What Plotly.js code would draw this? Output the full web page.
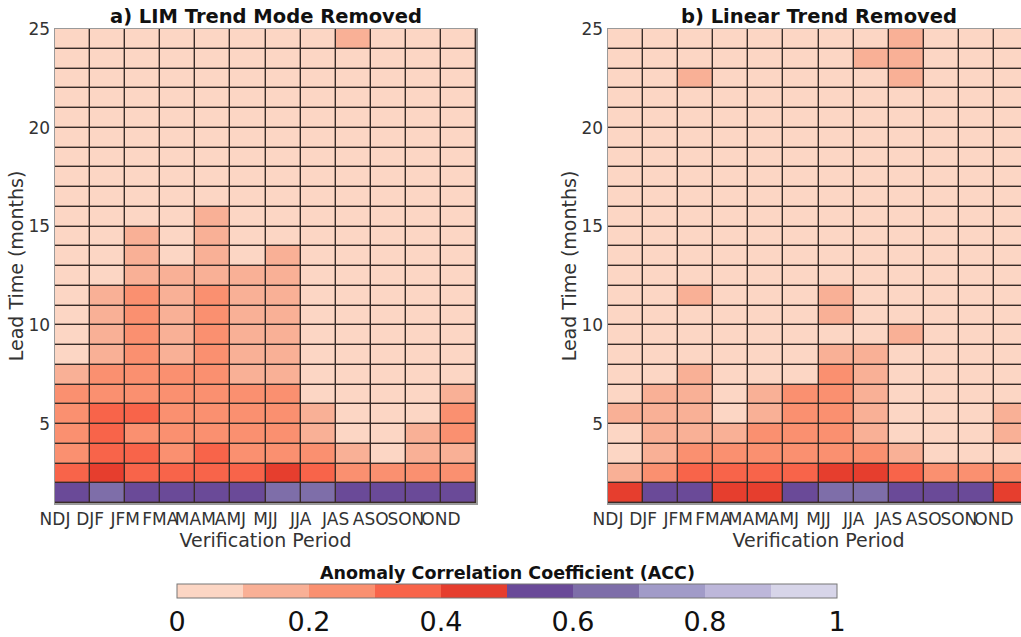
<!DOCTYPE html>
<html>
<head>
<meta charset="utf-8">
<script src="https://cdn.plot.ly/plotly-3.0.1.min.js"></script>
<style>
html, body { margin:0; padding:0; width:1021px; height:637px; overflow:hidden; background:#fff; }
#chart { width:1040px; height:637px; }
</style>
</head>
<body>
<div id="chart"></div>
<script>
// Verification periods (columns) and lead times (rows, months)
const periods = ['NDJ','DJF','JFM','FMA','MAM','AMJ','MJJ','JJA','JAS','ASO','SON','OND'];
const leads = [1,2,3,4,5,6,7,8,9,10,11,12,13,14,15,16,17,18,19,20,21,22,23,24];
const leadTicks = [5,10,15,20,25];
const accTicks = [0,0.2,0.4,0.6,0.8,1];

// a) LIM Trend Mode Removed : ACC per lead (row) and verification period (column)
const accLIM = [
  [0.55,0.65,0.55,0.55,0.55,0.55,0.65,0.65,0.55,0.55,0.55,0.55], // lead 1
  [0.35,0.45,0.35,0.35,0.35,0.35,0.45,0.35,0.25,0.25,0.25,0.25], // 2
  [0.25,0.35,0.35,0.25,0.35,0.25,0.25,0.25,0.15,0.05,0.15,0.15], // 3
  [0.25,0.35,0.25,0.25,0.25,0.25,0.25,0.15,0.05,0.05,0.15,0.25], // 4
  [0.25,0.35,0.35,0.25,0.25,0.25,0.25,0.15,0.05,0.05,0.05,0.25], // 5
  [0.25,0.25,0.25,0.25,0.25,0.25,0.25,0.05,0.05,0.05,0.05,0.15], // 6
  [0.15,0.25,0.25,0.25,0.25,0.15,0.15,0.05,0.05,0.05,0.05,0.05], // 7
  [0.05,0.15,0.25,0.15,0.25,0.15,0.15,0.05,0.05,0.05,0.05,0.05], // 8
  [0.05,0.15,0.25,0.15,0.25,0.15,0.15,0.05,0.05,0.05,0.05,0.05], // 9
  [0.05,0.15,0.25,0.15,0.25,0.15,0.15,0.05,0.05,0.05,0.05,0.05], // 10
  [0.05,0.15,0.25,0.15,0.25,0.15,0.15,0.05,0.05,0.05,0.05,0.05], // 11
  [0.05,0.05,0.15,0.15,0.15,0.15,0.15,0.05,0.05,0.05,0.05,0.05], // 12
  [0.05,0.05,0.15,0.05,0.15,0.05,0.15,0.05,0.05,0.05,0.05,0.05], // 13
  [0.05,0.05,0.15,0.05,0.15,0.05,0.05,0.05,0.05,0.05,0.05,0.05], // 14
  [0.05,0.05,0.05,0.05,0.15,0.05,0.05,0.05,0.05,0.05,0.05,0.05], // 15
  [0.05,0.05,0.05,0.05,0.05,0.05,0.05,0.05,0.05,0.05,0.05,0.05], // 16
  [0.05,0.05,0.05,0.05,0.05,0.05,0.05,0.05,0.05,0.05,0.05,0.05], // 17
  [0.05,0.05,0.05,0.05,0.05,0.05,0.05,0.05,0.05,0.05,0.05,0.05], // 18
  [0.05,0.05,0.05,0.05,0.05,0.05,0.05,0.05,0.05,0.05,0.05,0.05], // 19
  [0.05,0.05,0.05,0.05,0.05,0.05,0.05,0.05,0.05,0.05,0.05,0.05], // 20
  [0.05,0.05,0.05,0.05,0.05,0.05,0.05,0.05,0.05,0.05,0.05,0.05], // 21
  [0.05,0.05,0.05,0.05,0.05,0.05,0.05,0.05,0.05,0.05,0.05,0.05], // 22
  [0.05,0.05,0.05,0.05,0.05,0.05,0.05,0.05,0.05,0.05,0.05,0.05], // 23
  [0.05,0.05,0.05,0.05,0.05,0.05,0.05,0.05,0.15,0.05,0.05,0.05]  // 24
];

// b) Linear Trend Removed
const accLinear = [
  [0.45,0.55,0.55,0.45,0.45,0.55,0.65,0.65,0.55,0.55,0.55,0.45], // lead 1
  [0.15,0.25,0.35,0.35,0.35,0.35,0.45,0.45,0.35,0.25,0.25,0.25], // 2
  [0.05,0.15,0.25,0.25,0.25,0.25,0.25,0.25,0.15,0.05,0.05,0.05], // 3
  [0.05,0.15,0.15,0.15,0.25,0.25,0.25,0.15,0.05,0.05,0.05,0.15], // 4
  [0.15,0.15,0.15,0.05,0.15,0.25,0.25,0.15,0.05,0.05,0.05,0.15], // 5
  [0.05,0.15,0.15,0.05,0.15,0.25,0.25,0.15,0.05,0.05,0.05,0.05], // 6
  [0.05,0.05,0.15,0.05,0.05,0.05,0.25,0.15,0.05,0.05,0.05,0.05], // 7
  [0.05,0.05,0.05,0.05,0.05,0.05,0.15,0.15,0.05,0.05,0.05,0.05], // 8
  [0.05,0.05,0.05,0.05,0.05,0.05,0.05,0.05,0.15,0.05,0.05,0.05], // 9
  [0.05,0.05,0.05,0.05,0.05,0.05,0.15,0.05,0.05,0.05,0.05,0.05], // 10
  [0.05,0.05,0.15,0.05,0.05,0.05,0.15,0.05,0.05,0.05,0.05,0.05], // 11
  [0.05,0.05,0.05,0.05,0.05,0.05,0.05,0.05,0.05,0.05,0.05,0.05], // 12
  [0.05,0.05,0.05,0.05,0.05,0.05,0.05,0.05,0.05,0.05,0.05,0.05], // 13
  [0.05,0.05,0.05,0.05,0.05,0.05,0.05,0.05,0.05,0.05,0.05,0.05], // 14
  [0.05,0.05,0.05,0.05,0.05,0.05,0.05,0.05,0.05,0.05,0.05,0.05], // 15
  [0.05,0.05,0.05,0.05,0.05,0.05,0.05,0.05,0.05,0.05,0.05,0.05], // 16
  [0.05,0.05,0.05,0.05,0.05,0.05,0.05,0.05,0.05,0.05,0.05,0.05], // 17
  [0.05,0.05,0.05,0.05,0.05,0.05,0.05,0.05,0.05,0.05,0.05,0.05], // 18
  [0.05,0.05,0.05,0.05,0.05,0.05,0.05,0.05,0.05,0.05,0.05,0.05], // 19
  [0.05,0.05,0.05,0.05,0.05,0.05,0.05,0.05,0.05,0.05,0.05,0.05], // 20
  [0.05,0.05,0.05,0.05,0.05,0.05,0.05,0.05,0.05,0.05,0.05,0.05], // 21
  [0.05,0.05,0.15,0.05,0.05,0.05,0.05,0.05,0.15,0.05,0.05,0.05], // 22
  [0.05,0.05,0.05,0.05,0.05,0.05,0.05,0.15,0.15,0.05,0.05,0.05], // 23
  [0.05,0.05,0.05,0.05,0.05,0.05,0.05,0.05,0.15,0.05,0.05,0.05]  // 24
];

// Discrete colormap: 10 bins from 0 to 1
const binColors = ['#fcd6c4','#f9b096','#fa9070','#f8644a','#e63e2e',
                   '#6a4a98','#7e6ea9','#a19bc8','#bdb7da','#d7d5e9'];

const colorscale = [];
binColors.forEach((c, i) => {
  colorscale.push([i / binColors.length, c]);
  colorscale.push([(i + 1) / binColors.length, c]);
});

// cell edges built from the category / lead lists
const xEdges = periods.map((_, i) => i + 1).concat([periods.length + 1]);
const yEdges = leads.concat([leads[leads.length - 1] + 1]);

const W = 1040, H = 637;
const font = 'DejaVu Sans, Liberation Sans, sans-serif';

// colour bar geometry (pixels)
const CB_LEFT = 177, CB_LEN = 660, CB_TOP = 584, CB_THICK = 14;

function heat(z, xa, ya) {
  return {
    type: 'heatmap', z: z, x: xEdges, y: yEdges,
    xaxis: xa, yaxis: ya, coloraxis: 'coloraxis',
    xgap: 1.4, ygap: 1.4, hoverongaps: false,
    hovertemplate: '%{z:.2f}<extra></extra>'
  };
}

function xAxis(domain, anchor) {
  return {
    domain: domain, anchor: anchor, range: [1, periods.length + 1],
    tickmode: 'array', tickvals: periods.map((_, i) => i + 1), ticktext: periods,
    tickangle: 0, ticks: '', showgrid: false, zeroline: false,
    showline: true, mirror: true, linecolor: '#9a9a9a', linewidth: 1.5,
    tickfont: {family: font, size: 17, color: '#333'},
    title: {text: 'Verification Period', font: {family: font, size: 19, color: '#333'}, standoff: 0},
    fixedrange: true
  };
}
function yAxis(domain, anchor) {
  return {
    domain: domain, anchor: anchor, range: [1, 25],
    tickmode: 'array', tickvals: leadTicks,
    ticks: '', showgrid: false, zeroline: false,
    showline: true, mirror: true, linecolor: '#9a9a9a', linewidth: 1.5,
    tickfont: {family: font, size: 17, color: '#333'},
    title: {text: 'Lead Time (months)', font: {family: font, size: 19, color: '#333'}, standoff: 0},
    fixedrange: true
  };
}

const yDom = [(H - 503) / H, (H - 29) / H];

const data = [heat(accLIM, 'x', 'y'), heat(accLinear, 'x2', 'y2')];

// thin separators between the colour bins of the colour bar
const sepShapes = binColors.slice(1).map((_, i) => {
  const px = CB_LEFT + CB_LEN * (i + 1) / binColors.length;
  return {
    type: 'line', xref: 'paper', yref: 'paper',
    x0: px / W, x1: px / W,
    y0: (H - CB_TOP) / H, y1: (H - CB_TOP - CB_THICK) / H,
    line: {color: 'rgba(60,40,40,0.75)', width: 1}
  };
});

const layout = {
  width: W, height: H,
  margin: {l: 0, r: 0, t: 0, b: 0, autoexpand: false},
  paper_bgcolor: '#ffffff',
  plot_bgcolor: '#3a2c28',
  font: {family: font},
  showlegend: false,
  xaxis: xAxis([55 / W, 476 / W], 'y'),
  yaxis: yAxis(yDom, 'x'),
  xaxis2: xAxis([608 / W, 1029 / W], 'y2'),
  yaxis2: yAxis(yDom, 'x2'),
  coloraxis: {
    colorscale: colorscale, cmin: 0, cmax: 1,
    colorbar: {
      orientation: 'h',
      x: (CB_LEFT + CB_LEN / 2) / W, xanchor: 'center', xref: 'paper',
      y: (H - 630) / H, yanchor: 'bottom', yref: 'paper',
      len: CB_LEN, lenmode: 'pixels', thickness: CB_THICK, thicknessmode: 'pixels',
      xpad: 0, ypad: 0,
      outlinecolor: '#777', outlinewidth: 1,
      tickmode: 'array', tickvals: accTicks, ticktext: accTicks.map(String),
      ticks: '', ticklen: 0, tickfont: {family: font, size: 27, color: '#111'}
    }
  },
  shapes: sepShapes,
  annotations: [
    {text: '<b>a) LIM Trend Mode Removed</b>', xref: 'paper', yref: 'paper',
     x: (55 + 476) / 2 / W, y: (H - 17) / H, xanchor: 'center', yanchor: 'middle',
     showarrow: false, font: {family: font, size: 19.5, color: '#111'}},
    {text: '<b>b) Linear Trend Removed</b>', xref: 'paper', yref: 'paper',
     x: (608 + 1029) / 2 / W, y: (H - 17) / H, xanchor: 'center', yanchor: 'middle',
     showarrow: false, font: {family: font, size: 19.5, color: '#111'}},
    {text: '<b>Anomaly Correlation Coefficient (ACC)</b>', xref: 'paper', yref: 'paper',
     x: (CB_LEFT + CB_LEN / 2) / W, y: (H - 573) / H, xanchor: 'center', yanchor: 'middle',
     showarrow: false, font: {family: font, size: 17.5, color: '#111'}}
  ]
};

Plotly.newPlot('chart', data, layout, {displayModeBar: false, staticPlot: true});
</script>
</body>
</html>
